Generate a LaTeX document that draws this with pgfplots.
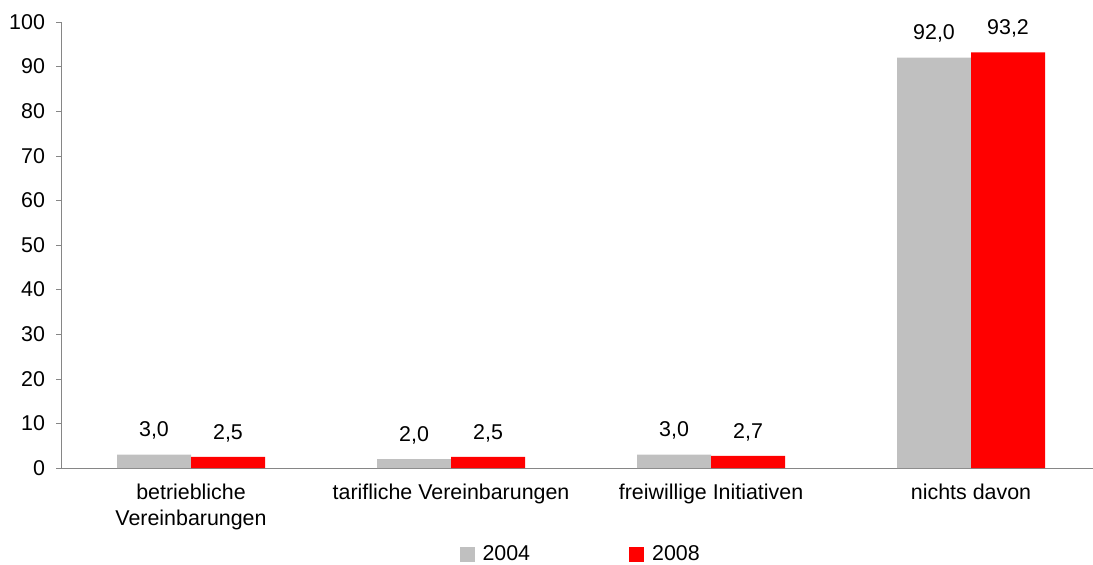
\documentclass[border=0pt]{standalone}
\usepackage{fontspec}
\setmainfont{Liberation Sans}
\usepackage{pgfplots}
\pgfplotsset{compat=1.18}
\definecolor{bargray}{HTML}{C0C0C0}
\definecolor{barred}{HTML}{FF0000}
\definecolor{axisgray}{HTML}{868686}
\begin{document}
\begin{tikzpicture}
\useasboundingbox (0,0) rectangle (546.5pt,282pt);
\begin{axis}[
    at={(30.5pt,48pt)}, anchor=south west,
    scale only axis,
    width=516pt, height=223pt,
    font=\fontsize{10.7}{12.8}\selectfont,
    /pgf/number format/assume math mode=true,
    ybar=0pt, bar width=37pt,
    xmin=-0.5, xmax=3.469,
    ymin=0, ymax=100,
    ytick distance=10,
    axis x line*=bottom, axis y line*=left,
    axis line style={axisgray},
    separate axis lines,
    x axis line style={-}, y axis line style={-},
    tick style={axisgray},
    tick align=outside,
    major tick length=2.5pt,
    xtick={0,1,2,3},
    xticklabels={betriebliche\\Vereinbarungen, tarifliche Vereinbarungen, freiwillige Initiativen, nichts davon},
    xtick style={draw=none},
    extra x ticks={-0.5,0.5,1.5,2.5},
    extra x tick labels={},
    extra x tick style={tick style={axisgray, draw=axisgray}, major tick length=3pt},
    xticklabel style={align=center, yshift=-2pt},
    yticklabel style={xshift=-2pt},
    nodes near coords,
    every node near coord/.append style={
        text=black, yshift=4pt,
        /pgf/number format/fixed,
        /pgf/number format/fixed zerofill,
        /pgf/number format/precision=1,
        /pgf/number format/use comma},
    legend columns=2,
    legend style={at={(0.504,-0.195)}, anchor=center, draw=none, fill=none,
        /tikz/every odd column/.append style={column sep=2.5pt},
        /tikz/every even column/.append style={column sep=48pt},
        nodes={inner sep=1.5pt}},
    legend image code/.code={\fill[#1] (0pt,-3.75pt) rectangle (7.5pt,3.75pt);},
]
\addplot[fill=bargray, draw=none] coordinates {(0,3.0) (1,2.0) (2,3.0) (3,92.0)};
\addlegendentry{2004}
\addplot[fill=barred, draw=none] coordinates {(0,2.5) (1,2.5) (2,2.7) (3,93.2)};
\addlegendentry{2008}
\end{axis}
\end{tikzpicture}
\end{document}
